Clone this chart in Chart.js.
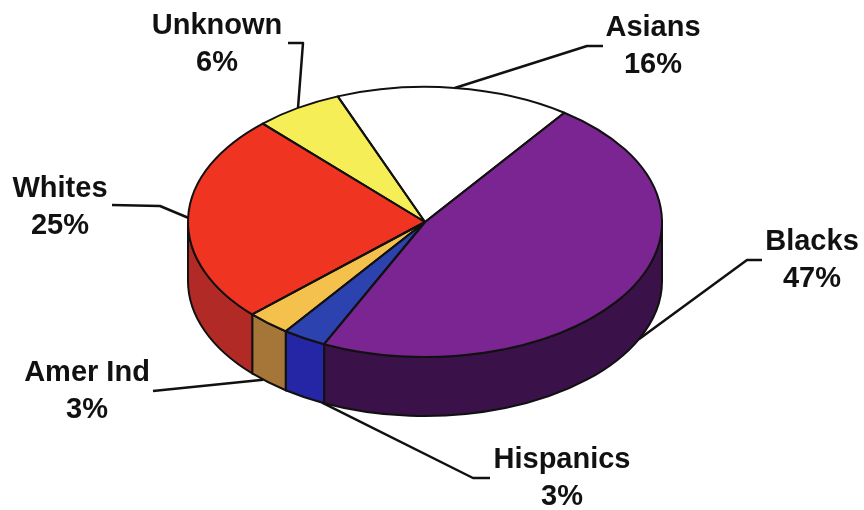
<!DOCTYPE html>
<html>
<head>
<meta charset="utf-8">
<script src="https://cdn.jsdelivr.net/npm/chart.js@4.4.1/dist/chart.umd.min.js"></script>
<style>
  html, body { margin: 0; padding: 0; background: #fff; }
  canvas { display: block; }
</style>
</head>
<body>
<canvas id="pie" width="864" height="510"></canvas>
<script>
// slices, clockwise from the upper right
const groups = ['Blacks', 'Hispanics', 'Amer Ind', 'Whites', 'Unknown', 'Asians'];
const shares = [47, 3, 3, 25, 6, 16];
const topColors = ['#7b2592', '#2c42ae', '#f4c24c', '#f03422', '#f6ee56', '#ffffff'];
const sideColors = ['#3a1149', '#2426a6', '#a67538', '#b22a26', '#b8ae3a', '#d8d8d8'];

// label placement: text centre / first baseline, where the leader touches the slice
// (fraction along the slice, 0 = top rim, 1 = bottom of the wall) and the elbow points
const labelSpots = [
    { x: 812, y: 250, at: 0.47, drop: 1, elbow: [[762, 260], [747, 260]] },
    { x: 562, y: 468, at: 0.05, drop: 1, elbow: [[490, 478], [473, 478]] },
    { x: 87,  y: 381, at: 0.65, drop: 1, elbow: [[153, 391]] },
    { x: 60,  y: 197, at: 0.5,  drop: 0, elbow: [[112, 205], [160, 206]] },
    { x: 217, y: 34,  at: 0.5,  drop: 0, elbow: [[288, 43], [303, 43]] },
    { x: 653, y: 36,  at: 0.5,  drop: 0, elbow: [[603, 46], [587, 46]] }
];

// squashes the pie into an ellipse and adds the extruded wall underneath
const pie3d = {
    id: 'pie3d',
    beforeDatasetsDraw(chart, args, opts) {
        const ctx = chart.ctx;
        const arcs = chart.getDatasetMeta(0).data;
        const { x: cx, y: cy, outerRadius: r } = arcs[0];
        const ty = opts.centerY, k = opts.tilt, d = opts.depth;

        // front wall, only the part facing the viewer (0..PI)
        ctx.save();
        ctx.lineWidth = 2;
        ctx.strokeStyle = '#111';
        arcs.forEach((arc, i) => {
            const a = Math.max(arc.startAngle, 0);
            const b = Math.min(arc.endAngle, Math.PI);
            if (b <= a) return;
            ctx.beginPath();
            ctx.ellipse(cx, ty, r, r * k, 0, a, b);
            ctx.ellipse(cx, ty + d, r, r * k, 0, b, a, true);
            ctx.closePath();
            ctx.fillStyle = sideColors[i];
            ctx.fill();
            ctx.stroke();
        });
        ctx.restore();

        // the library draws the top faces into this squashed space
        ctx.save();
        ctx.translate(cx, ty);
        ctx.scale(1, k);
        ctx.translate(-cx, -cy);
    },
    afterDatasetsDraw(chart, args, opts) {
        const ctx = chart.ctx;
        ctx.restore();

        const arcs = chart.getDatasetMeta(0).data;
        const { x: cx, outerRadius: r } = arcs[0];
        const ty = opts.centerY, k = opts.tilt, d = opts.depth;
        const rim = (ang, drop) => [cx + r * Math.cos(ang), ty + r * k * Math.sin(ang) + drop * d];

        // slice outlines on the top face
        ctx.save();
        ctx.lineWidth = 2;
        ctx.strokeStyle = '#111';
        ctx.lineJoin = 'round';
        arcs.forEach(arc => {
            const p = rim(arc.startAngle, 0);
            ctx.beginPath();
            ctx.moveTo(cx, ty);
            ctx.lineTo(p[0], p[1]);
            ctx.ellipse(cx, ty, r, r * k, 0, arc.startAngle, arc.endAngle);
            ctx.closePath();
            ctx.stroke();
        });

        // leader lines and labels
        ctx.lineWidth = 2.5;
        ctx.fillStyle = '#111';
        ctx.font = 'bold 29px "Liberation Sans", Arial, sans-serif';
        ctx.textAlign = 'center';
        ctx.textBaseline = 'alphabetic';
        arcs.forEach((arc, i) => {
            const spot = labelSpots[i];
            const ang = arc.startAngle + (arc.endAngle - arc.startAngle) * spot.at;
            const end = rim(ang, spot.drop);
            ctx.beginPath();
            ctx.moveTo(spot.elbow[0][0], spot.elbow[0][1]);
            spot.elbow.slice(1).forEach(pt => ctx.lineTo(pt[0], pt[1]));
            ctx.lineTo(end[0], end[1]);
            ctx.stroke();
            ctx.fillText(groups[i], spot.x, spot.y);
            ctx.fillText(shares[i] + '%', spot.x, spot.y + 37);
        });
        ctx.restore();
    }
};

new Chart(document.getElementById('pie'), {
    type: 'pie',
    data: {
        labels: groups,
        datasets: [{
            data: shares,
            backgroundColor: topColors,
            borderWidth: 0,
            hoverOffset: 0,
            offset: 0,
            clip: false
        }]
    },
    options: {
        responsive: false,
        animation: false,
        events: [],
        rotation: 36,
        layout: { padding: { left: 188, right: 202, top: 0, bottom: 36 } },
        plugins: {
            legend: { display: false },
            tooltip: { enabled: false },
            pie3d: { centerY: 222, tilt: 0.57, depth: 59 }
        }
    },
    plugins: [pie3d]
});
</script>
</body>
</html>
